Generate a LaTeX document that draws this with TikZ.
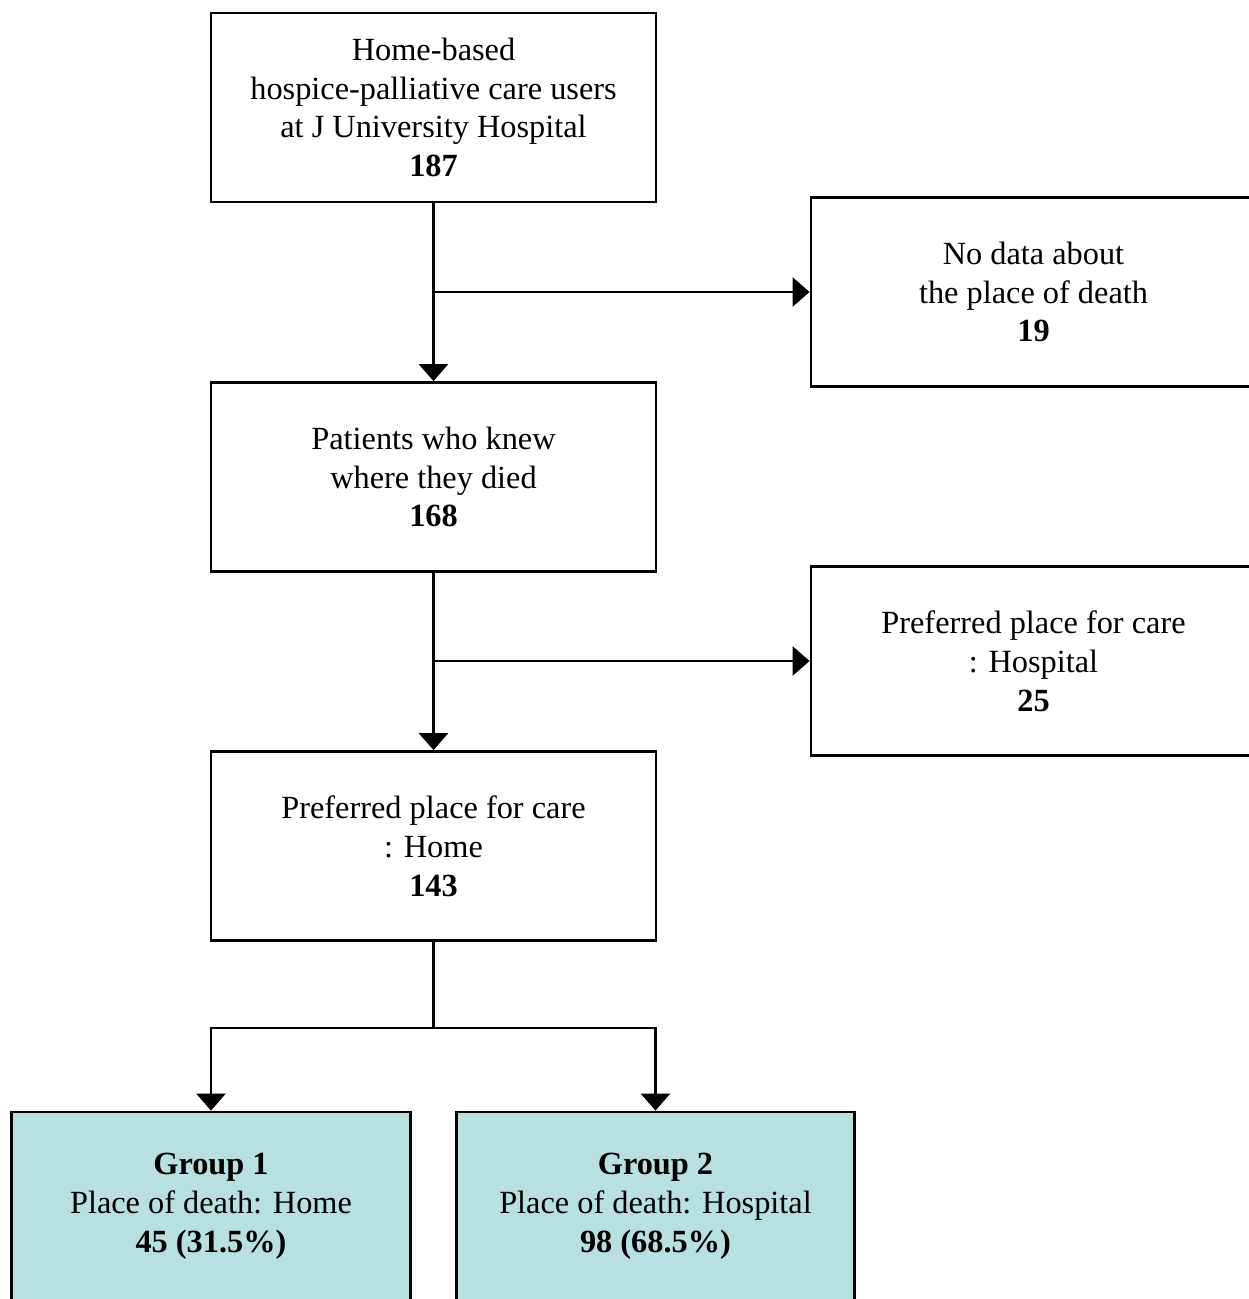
\documentclass[tikz,border=0pt]{standalone}
\usepackage{fontspec}
\setmainfont{Liberation Serif}
\usetikzlibrary{arrows.meta}
\definecolor{groupfill}{RGB}{184,224,224}
\begin{document}
\begin{tikzpicture}
                    \tikzstyle{box}=[rectangle,draw=black,line width=1.6pt,inner sep=0pt,minimum width=8.9cm,minimum height=3.78cm,align=center,font=\fontsize{18.4}{22.1}\selectfont]
                    \tikzstyle{groupbox}=[box,fill=groupfill,minimum width=7.97cm]
                    \tikzstyle{link}=[line width=1.6pt,-{Triangle[length=0.34cm,width=0.58cm]}]
                    \useasboundingbox (0,0) rectangle (24.96,-25.98);

                    \node (users) at (8.67,-2.15) [box] {Home-based\\hospice-palliative care users\\at J University Hospital\\\textbf{187}};
                    \node (nodata) at (20.67,-5.84) [box] {No data about\\the place of death\\\textbf{19}};
                    \node (knew) at (8.67,-9.54) [box] {Patients who knew\\where they died\\\textbf{168}};
                    \node (hosp) at (20.67,-13.22) [box] {Preferred place for care\\: Hospital\\\textbf{25}};
                    \node (home) at (8.67,-16.92) [box] {Preferred place for care\\: Home\\\textbf{143}};
                    \node (g1) at (4.22,-24.13) [groupbox] {\textbf{Group 1}\\Place of death: Home\\\textbf{45 (31.5\%)}};
                    \node (g2) at (13.11,-24.13) [groupbox] {\textbf{Group 2}\\Place of death: Hospital\\\textbf{98 (68.5\%)}};

                    \coordinate (j1) at (users.south |- nodata.west);
                    \coordinate (j2) at (knew.south |- hosp.west);
                    \coordinate (j3) at ([yshift=-1.72cm]home.south);

                    \draw [link] (users) -- (knew);
                    \draw [link] (j1) -- (nodata);
                    \draw [link] (knew) -- (home);
                    \draw [link] (j2) -- (hosp);

                    \draw [line width=1.6pt] (home) -- (j3);
                    \draw [link] (j3) -| (g1);
                    \draw [link] (j3) -| (g2);
                \end{tikzpicture}
\end{document}
